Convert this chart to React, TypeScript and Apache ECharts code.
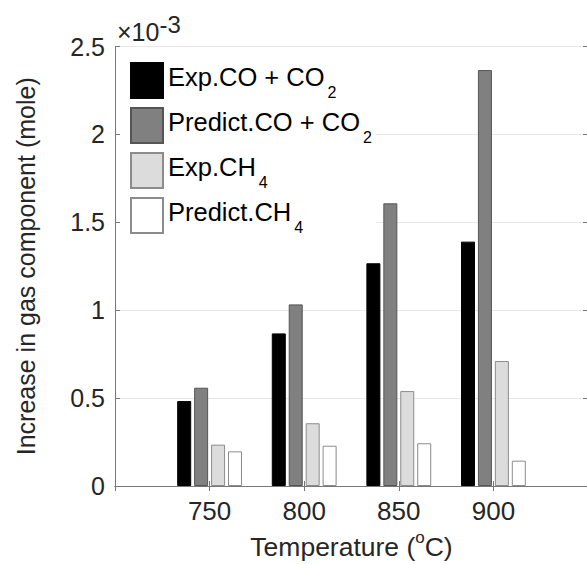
import React, { useEffect, useRef } from 'react';
import * as echarts from 'echarts';

// Values in units of 10^-3 mole
const temperatures = [750, 800, 850, 900];
const expCOCO2 = [0.483, 0.868, 1.267, 1.39];
const predictCOCO2 = [0.559, 1.033, 1.608, 2.366];
const expCH4 = [0.235, 0.357, 0.54, 0.711];
const predictCH4 = [0.197, 0.229, 0.243, 0.144];

const seriesNames = ['Exp.CO + CO2', 'Predict.CO + CO2', 'Exp.CH4', 'Predict.CH4'];
const legendMain = ['Exp.CO + CO', 'Predict.CO + CO', 'Exp.CH', 'Predict.CH'];
const legendSub = ['2', '2', '4', '4'];
const xTickLabels = [750, 800, 850, 900];
const xRange = [700, 950];
const yRange = [0, 2.5];

const FONT = "'Liberation Sans', Arial, Helvetica, sans-serif";
const TXT = '#262626';

export default function App() {
  const ref = useRef<HTMLDivElement>(null);
  useEffect(() => {
    if (!ref.current) return;
    const chart = echarts.init(ref.current, undefined, { renderer: 'svg' });
    const fills = ['#000000', '#808080', '#dcdcdc', '#ffffff'];
    const borders = ['#000000', '#555555', '#8c8c8c', '#8c8c8c'];
    const allValues = [expCOCO2, predictCOCO2, expCH4, predictCH4];
    const series = allValues.map((vals, i) => ({
      name: seriesNames[i],
      type: 'bar',
      xAxisIndex: 0,
      yAxisIndex: 0,
      barWidth: 14,
      barGap: '21%',
      data: temperatures.map((t, j) => [t, vals[j]]),
      itemStyle: { color: fills[i], borderColor: borders[i], borderWidth: 1 },
      emphasis: { disabled: true },
    }));
    const axisLineStyle = { color: '#777', width: 1 };
    chart.setOption({
      animation: false,
      textStyle: { fontFamily: FONT },
      grid: {
        left: 115,
        top: 46.5,
        width: 473,
        height: 439.5,
        containLabel: false,
        outerBoundsMode: 'none',
      },
      legend: {
        orient: 'vertical',
        left: 120,
        top: 53,
        padding: [8, 4, 8, 10],
        backgroundColor: '#ffffff',
        itemWidth: 32,
        itemHeight: 35,
        itemGap: 6,
        icon: 'rect',
        selectedMode: false,
        data: seriesNames,
        formatter: (name: string) => {
          const i = seriesNames.indexOf(name);
          return `{m|${legendMain[i]}}{s|${legendSub[i]}}`;
        },
        textStyle: {
          fontFamily: FONT,
          fontSize: 25.5,
          color: '#000',
          rich: {
            m: { fontFamily: FONT, fontSize: 25.5, lineHeight: 30, padding: [0, 0, 7, 0], color: '#000' },
            s: { fontFamily: FONT, fontSize: 16, lineHeight: 16, padding: [23, 0, 0, 3], color: '#000' },
          },
        },
      },
      xAxis: [
        {
          type: 'value',
          min: xRange[0],
          max: xRange[1],
          interval: 50,
          position: 'bottom',
          name: 'Temperature ({sup|o}C)',
          nameLocation: 'middle',
          nameGap: 45,
          nameTextStyle: {
            fontFamily: FONT,
            fontSize: 26.5,
            color: TXT,
            rich: {
              sup: { fontFamily: FONT, fontSize: 17, lineHeight: 17, padding: [0, 0, 20, 0], color: TXT },
            },
          },
          axisLine: { show: true, lineStyle: axisLineStyle },
          axisTick: { show: true, inside: true, length: 5, lineStyle: axisLineStyle },
          axisLabel: {
            fontFamily: FONT,
            fontSize: 26,
            color: TXT,
            margin: 12,
            formatter: (v: number) => (xTickLabels.includes(v) ? String(v) : ''),
          },
          splitLine: { show: false },
        },
        {
          type: 'value',
          min: xRange[0],
          max: xRange[1],
          interval: 50,
          position: 'top',
          axisLine: { show: true, lineStyle: axisLineStyle },
          axisTick: { show: true, inside: true, length: 5, lineStyle: axisLineStyle },
          axisLabel: { show: false },
          splitLine: { show: false },
        },
      ],
      yAxis: [
        {
          type: 'value',
          min: yRange[0],
          max: yRange[1],
          interval: 0.5,
          position: 'left',
          name: 'Increase in gas component (mole)',
          nameLocation: 'middle',
          nameGap: 77,
          nameTextStyle: { fontFamily: FONT, fontSize: 25, color: TXT },
          axisLine: { show: true, lineStyle: axisLineStyle },
          axisTick: { show: true, inside: true, length: 5, lineStyle: axisLineStyle },
          axisLabel: { fontFamily: FONT, fontSize: 25, color: TXT, margin: 10 },
          splitLine: { show: true, lineStyle: { color: '#e8e8e8', width: 1 } },
        },
        {
          type: 'value',
          min: yRange[0],
          max: yRange[1],
          interval: 0.5,
          position: 'right',
          axisLine: { show: true, lineStyle: axisLineStyle },
          axisTick: { show: true, inside: true, length: 5, lineStyle: axisLineStyle },
          axisLabel: { show: false },
          splitLine: { show: false },
        },
      ],
      graphic: [
        {
          type: 'text',
          x: 117,
          y: 31.7,
          style: {
            text: '{a|×10}{b|-3}',
            fontFamily: FONT,
            fontSize: 25,
            fill: TXT,
            verticalAlign: 'middle',
            align: 'left',
            rich: {
              a: { fontFamily: FONT, fontSize: 25, lineHeight: 25, fill: TXT },
              b: { fontFamily: FONT, fontSize: 24, lineHeight: 24, padding: [0, 0, 15, 0], fill: TXT },
            },
          },
        },
      ],
      series,
    });
    return () => chart.dispose();
  }, []);
  return <div ref={ref} style={{ position: 'absolute', left: 0, top: 0, width: 587, height: 564 }} />;
}
